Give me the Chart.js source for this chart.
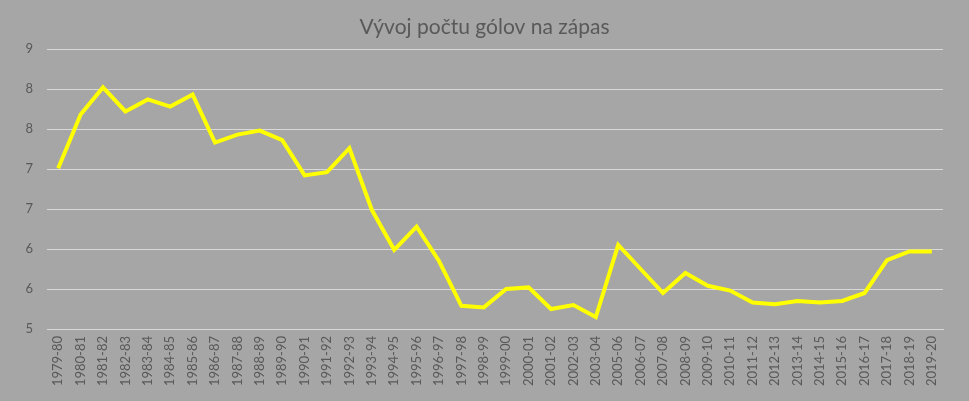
<!DOCTYPE html>
<html>
<head>
<meta charset="utf-8">
<script src="https://cdn.jsdelivr.net/npm/chart.js@4/dist/chart.umd.min.js"></script>
<style>
  html, body { margin: 0; padding: 0; background: #a6a6a6; }
  #wrap { width: 969px; height: 401px; position: relative; }
</style>
</head>
<body>
<div id="wrap"><canvas id="c" width="969" height="401"></canvas></div>
<script>
const chartTitle = "Vývoj počtu gólov na zápas";
const seasons = [
  "1979-80","1980-81","1981-82","1982-83","1983-84","1984-85","1985-86","1986-87",
  "1987-88","1988-89","1989-90","1990-91","1991-92","1992-93","1993-94","1994-95",
  "1995-96","1996-97","1997-98","1998-99","1999-00","2000-01","2001-02","2002-03",
  "2003-04","2005-06","2006-07","2007-08","2008-09","2009-10","2010-11","2011-12",
  "2012-13","2013-14","2014-15","2015-16","2016-17","2017-18","2018-19","2019-20"
];
const goalsPerGame = [
  7.01, 7.68, 8.02, 7.72, 7.87, 7.78, 7.93, 7.33,
  7.43, 7.48, 7.36, 6.92, 6.96, 7.26, 6.49, 5.99,
  6.28, 5.85, 5.29, 5.27, 5.50, 5.52, 5.25, 5.30,
  5.15, 6.05, 5.75, 5.45, 5.70, 5.54, 5.48, 5.33,
  5.31, 5.35, 5.33, 5.35, 5.45, 5.86, 5.97, 5.97
];
const yMin = 5, yMax = 8.5, yStep = 0.5;

const bgPlugin = {
  id: 'bg',
  beforeDraw(chart) {
    const ctx = chart.ctx;
    ctx.save();
    ctx.fillStyle = '#a6a6a6';
    ctx.fillRect(0, 0, chart.width, chart.height);
    ctx.restore();
  }
};

const titlePlugin = {
  id: 'centeredTitle',
  afterDraw(chart) {
    const ctx = chart.ctx;
    ctx.save();
    ctx.fillStyle = '#595959';
    ctx.font = 'normal 21px Lato';
    ctx.textAlign = 'center';
    ctx.textBaseline = 'middle';
    ctx.fillText(chartTitle, chart.width / 2, 27);
    ctx.restore();
  }
};

new Chart(document.getElementById('c'), {
  type: 'line',
  data: {
    labels: seasons,
    datasets: [{
      data: goalsPerGame,
      borderColor: '#ffff00',
      borderWidth: 4,
      pointRadius: 0,
      tension: 0,
      fill: false
    }]
  },
  options: {
    responsive: false,
    animation: false,
    layout: { padding: { left: 0, right: 26, top: 49, bottom: 0 } },
    plugins: {
      legend: { display: false },
      tooltip: { enabled: false },
      title: { display: false }
    },
    scales: {
      x: {
        offset: true,
        grid: { display: false, drawTicks: false, offset: true },
        border: { display: true, color: '#d9d9d9', width: 1 },
        ticks: {
          color: '#595959',
          font: { family: 'Lato', size: 13 },
          minRotation: 90, maxRotation: 90,
          autoSkip: false,
          padding: 7
        },
        afterFit(s) { s.height = 72; }
      },
      y: {
        min: yMin, max: yMax,
        grid: { color: '#d9d9d9', lineWidth: 1, drawTicks: false },
        border: { display: false },
        ticks: {
          stepSize: yStep,
          color: '#595959',
          font: { family: 'Lato', size: 13 },
          padding: 14,
          callback: v => String(Math.round(v))
        },
        afterFit(s) { s.width = 47; }
      }
    }
  },
  plugins: [bgPlugin, titlePlugin]
});
</script>
</body>
</html>
